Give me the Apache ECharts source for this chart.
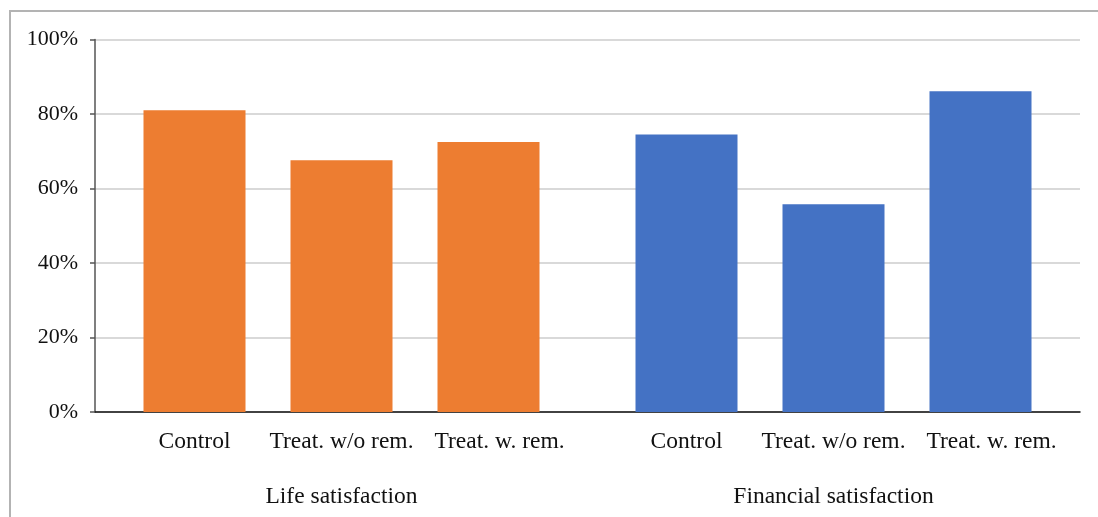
<!DOCTYPE html>
<html>
<head>
<meta charset="utf-8">
<script src="https://cdn.jsdelivr.net/npm/echarts@6/dist/echarts.min.js"></script>
<style>
  html, body { margin: 0; padding: 0; background: #fff; }
  #chart { width: 1098px; height: 517px; }
</style>
</head>
<body>
<div id="chart"></div>
<script>
// Treatment arms shown in each group
const categories = ['Control', 'Treat. w/o rem.', 'Treat. w. rem.'];
// Group titles under the category labels
const groupNames = ['Life satisfaction', 'Financial satisfaction'];
// Share of respondents (%)
const lifeValues = [81.0, 67.6, 72.5];
const financialValues = [74.5, 55.8, 86.1];

const FONT = '"Liberation Serif", "Times New Roman", serif';
const TEXT = '#111';
const LABEL_SIZE = 23.5;

const chart = echarts.init(document.getElementById('chart'), null, { renderer: 'canvas' });

const hiddenY = (gi) => ({
  type: 'value', gridIndex: gi, min: 0, max: 100, interval: 20, show: false
});

const groupX = (gi, name) => ({
  type: 'category',
  gridIndex: gi,
  data: categories,
  axisLine: { show: false },
  axisTick: { show: false },
  splitLine: { show: false },
  axisLabel: {
    color: TEXT, fontFamily: FONT, fontSize: LABEL_SIZE, margin: 18, interval: 0,
    // the last label sits a little right of its bar
    formatter: (v, i) => (i === 2 ? '{shift|' + v + '}' : v),
    rich: {
      shift: { color: TEXT, fontFamily: FONT, fontSize: LABEL_SIZE, padding: [0, 0, 0, 22] }
    }
  },
  name: name,
  nameLocation: 'middle',
  nameGap: 73,
  nameTextStyle: { color: TEXT, fontFamily: FONT, fontSize: LABEL_SIZE }
});

chart.setOption({
  animation: false,
  backgroundColor: '#fff',
  graphic: [{
    type: 'rect',
    shape: { x: 10, y: 11, width: 1200, height: 600 },
    style: { fill: 'none', stroke: '#b3b3b3', lineWidth: 2 },
    silent: true,
    z: -1
  }],
  grid: [
    // full plot area: value axis, gridlines and baseline
    { left: 95, right: 18, top: 39.5, bottom: 105, containLabel: false },
    // left group
    { left: 121, width: 441, top: 39.5, bottom: 105, containLabel: false },
    // right group
    { left: 613, width: 441, top: 39.5, bottom: 105, containLabel: false }
  ],
  xAxis: [
    {
      type: 'value', gridIndex: 0, min: 0, max: 1,
      axisLine: { show: true, lineStyle: { color: '#111', width: 1.5 } },
      axisTick: { show: false },
      axisLabel: { show: false },
      splitLine: { show: false }
    },
    groupX(1, groupNames[0]),
    groupX(2, groupNames[1])
  ],
  yAxis: [
    {
      type: 'value', gridIndex: 0, min: 0, max: 100, interval: 20,
      axisLine: { show: true, lineStyle: { color: '#555', width: 1.5 } },
      axisTick: { show: true, length: 5, lineStyle: { color: '#555', width: 1.5 } },
      axisLabel: {
        color: TEXT, fontFamily: FONT, fontSize: 22, margin: 17,
        formatter: (v) => v + '%'
      },
      splitLine: { show: true, lineStyle: { color: '#d9d9d9', width: 2 } }
    },
    hiddenY(1),
    hiddenY(2)
  ],
  series: [
    {
      type: 'bar', xAxisIndex: 1, yAxisIndex: 1,
      data: lifeValues, barWidth: 102,
      itemStyle: { color: '#ED7D31' }
    },
    {
      type: 'bar', xAxisIndex: 2, yAxisIndex: 2,
      data: financialValues, barWidth: 102,
      itemStyle: { color: '#4472C4' }
    }
  ]
});
</script>
</body>
</html>
